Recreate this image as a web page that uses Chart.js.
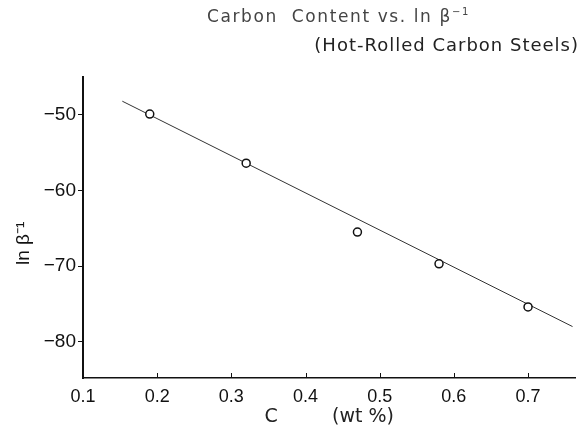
<!DOCTYPE html>
<html>
<head>
<meta charset="utf-8">
<script src="https://cdn.jsdelivr.net/npm/chart.js@4.4.1/dist/chart.umd.min.js"></script>
<style>
  html, body { margin: 0; padding: 0; background: #fff; }
  #wrap { position: relative; width: 581px; height: 433px; }
  .ttl { position: absolute; font-family: "DejaVu Sans", sans-serif; color: #222; white-space: nowrap; }
  #t1 { left: 207px; top: 6px; font-size: 17px; letter-spacing: 1.6px; color: #444; }
  #t2 { right: 2px; top: 34px; font-size: 18px; letter-spacing: 1px; }
</style>
</head>
<body>
<div id="wrap">
  <canvas id="chart" width="581" height="433"></canvas>
  <div class="ttl" id="t1">Carbon&nbsp; Content vs. ln β<sup style="font-size:10px">−1</sup></div>
  <div class="ttl" id="t2">(Hot-Rolled Carbon Steels)</div>
</div>
<script>
// puntos medidos
const carbono = [0.19, 0.32, 0.47, 0.58, 0.70];
const lnBeta = [-49.9, -56.4, -65.5, -69.7, -75.4];

// recta ajustada
const rectaX = [0.153, 0.76];
const rectaY = [-48.2, -78.0];

const ticksX = [0.1, 0.2, 0.3, 0.4, 0.5, 0.6, 0.7];
const ticksY = [-80, -70, -60, -50];

const font = "Liberation Sans";

// marcas de x hacia dentro
const innerTicks = {
    id: "innerTicks",
    afterDraw(chart) {
        const ctx = chart.ctx;
        const sx = chart.scales.x;
        const bottom = chart.chartArea.bottom;
        ctx.save();
        ctx.strokeStyle = "#111";
        ctx.lineWidth = 1;
        ticksX.forEach(v => {
            const px = Math.round(sx.getPixelForValue(v)) + 0.5;
            ctx.beginPath();
            ctx.moveTo(px, bottom);
            ctx.lineTo(px, bottom - 5);
            ctx.stroke();
        });
        ctx.restore();
    }
};

new Chart(document.getElementById("chart"), {
    type: "scatter",
    data: {
        datasets: [{
            data: carbono.map((c, i) => ({ x: c, y: lnBeta[i] })),
            pointRadius: 4,
            pointBorderWidth: 1.5,
            pointBorderColor: "#111",
            pointBackgroundColor: "#fff",
            showLine: false,
            order: 0
        }, {
            data: rectaX.map((c, i) => ({ x: c, y: rectaY[i] })),
            showLine: true,
            borderColor: "#333",
            borderWidth: 1,
            pointRadius: 0,
            order: 1
        }]
    },
    options: {
        responsive: false,
        animation: false,
        events: [],
        layout: { padding: { top: 77, right: 3, left: 0, bottom: 0 } },
        plugins: { legend: { display: false }, tooltip: { enabled: false } },
        scales: {
            x: {
                type: "linear",
                min: 0.1,
                max: 0.764,
                afterFit: s => { s.height = 55; },
                afterBuildTicks: s => { s.ticks = ticksX.map(v => ({ value: v })); },
                grid: { drawOnChartArea: false, drawTicks: false },
                border: { display: true, color: "#111", width: 1.5 },
                ticks: {
                    padding: 8,
                    color: "#111",
                    font: { family: font, size: 18 },
                    callback: v => v.toFixed(1)
                },
                title: {
                    display: true,
                    text: "C         (wt %)",
                    color: "#222",
                    font: { family: "DejaVu Sans", size: 19 },
                    padding: { bottom: 5 }
                }
            },
            y: {
                type: "linear",
                min: -84.8,
                max: -45,
                afterFit: s => { s.width = 83; },
                afterBuildTicks: s => { s.ticks = ticksY.map(v => ({ value: v })); },
                grid: { drawOnChartArea: false, drawTicks: true, tickLength: 5, color: "#111" },
                border: { display: true, color: "#111", width: 2 },
                ticks: {
                    padding: 2,
                    color: "#111",
                    font: { family: font, size: 19 },
                    callback: v => "−" + Math.abs(v)
                },
                title: {
                    display: true,
                    text: "ln β⁻¹      ",
                    color: "#111",
                    font: { family: font, size: 19 },
                    padding: { top: 12 }
                }
            }
        }
    },
    plugins: [innerTicks]
});
</script>
</body>
</html>
